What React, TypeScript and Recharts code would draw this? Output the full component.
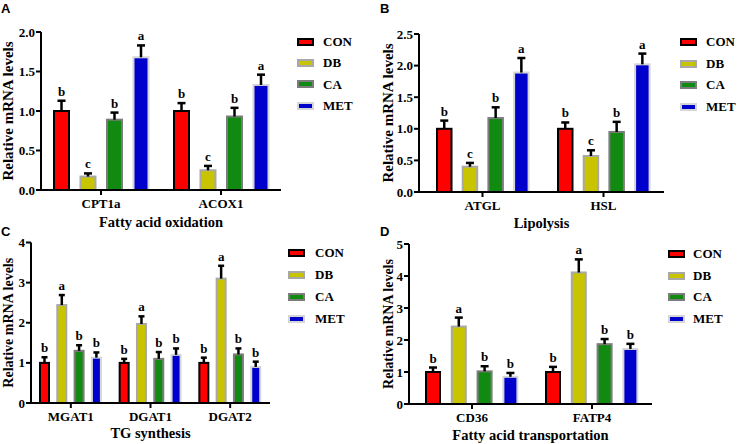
import React from 'react';
import { BarChart, Bar, XAxis, YAxis, Legend, LabelList } from 'recharts';

// ---------- shared ----------
const SERIES = ['CON', 'DB', 'CA', 'MET'];
const FILLS = ['#ff0000', '#c8c400', '#118a11', '#0000cc'];
const STROKES = ['#000000', '#a8a8a8', '#7c7c7c', '#d6d6d6'];
const Y_TITLE = 'Relative mRNA levels';
const SERIF = '"Liberation Serif", "Times New Roman", "DejaVu Serif", serif';

// ---------- Panel A: Fatty acid oxidation ----------
const genesA = ['CPT1a', 'ACOX1'];
const conA = [1.0, 1.0];
const conErrA = [0.13, 0.1];
const dbA = [0.17, 0.25];
const dbErrA = [0.04, 0.055];
const caA = [0.89, 0.93];
const caErrA = [0.09, 0.11];
const metA = [1.68, 1.33];
const metErrA = [0.15, 0.13];
const conLetA = ['b', 'b'];
const dbLetA = ['c', 'c'];
const caLetA = ['b', 'b'];
const metLetA = ['a', 'a'];
const ticksA = [0, 0.5, 1, 1.5, 2];

// ---------- Panel B: Lipolysis ----------
const genesB = ['ATGL', 'HSL'];
const conB = [1.0, 1.0];
const conErrB = [0.13, 0.1];
const dbB = [0.4, 0.57];
const dbErrB = [0.06, 0.09];
const caB = [1.17, 0.95];
const caErrB = [0.17, 0.16];
const metB = [1.89, 2.02];
const metErrB = [0.23, 0.17];
const conLetB = ['b', 'b'];
const dbLetB = ['c', 'c'];
const caLetB = ['b', 'b'];
const metLetB = ['a', 'a'];
const ticksB = [0, 0.5, 1, 1.5, 2, 2.5];

// ---------- Panel C: TG synthesis ----------
const genesC = ['MGAT1', 'DGAT1', 'DGAT2'];
const conC = [1.0, 1.0, 1.0];
const conErrC = [0.14, 0.1, 0.13];
const dbC = [2.44, 1.97, 3.1];
const dbErrC = [0.25, 0.19, 0.32];
const caC = [1.3, 1.1, 1.21];
const caErrC = [0.14, 0.17, 0.15];
const metC = [1.13, 1.2, 0.9];
const metErrC = [0.13, 0.16, 0.13];
const conLetC = ['b', 'b', 'b'];
const dbLetC = ['a', 'a', 'a'];
const caLetC = ['b', 'b', 'b'];
const metLetC = ['b', 'b', 'b'];
const ticksC = [0, 1, 2, 3, 4];

// ---------- Panel D: Fatty acid transportation ----------
const genesD = ['CD36', 'FATP4'];
const conD = [1.0, 1.0];
const conErrD = [0.14, 0.16];
const dbD = [2.42, 4.11];
const dbErrD = [0.28, 0.41];
const caD = [1.02, 1.87];
const caErrD = [0.16, 0.16];
const metD = [0.85, 1.72];
const metErrD = [0.12, 0.16];
const conLetD = ['b', 'b'];
const dbLetD = ['a', 'a'];
const caLetD = ['b', 'b'];
const metLetD = ['b', 'b'];
const ticksD = [0, 1, 2, 3, 4, 5];

type Row = Record<string, any>;

function buildRows(genes: string[], vals: number[][], errs: number[][], lets: string[][]): Row[] {
  return genes.map((g, i) => {
    const r: Row = { gene: g };
    SERIES.forEach((s, k) => {
      r[s] = vals[k][i];
      r[s + '_err'] = errs[k][i];
      r[s + '_let'] = lets[k][i];
    });
    return r;
  });
}

const dataA = buildRows(genesA, [conA, dbA, caA, metA], [conErrA, dbErrA, caErrA, metErrA], [conLetA, dbLetA, caLetA, metLetA]);
const dataB = buildRows(genesB, [conB, dbB, caB, metB], [conErrB, dbErrB, caErrB, metErrB], [conLetB, dbLetB, caLetB, metLetB]);
const dataC = buildRows(genesC, [conC, dbC, caC, metC], [conErrC, dbErrC, caErrC, metErrC], [conLetC, dbLetC, caLetC, metLetC]);
const dataD = buildRows(genesD, [conD, dbD, caD, metD], [conErrD, dbErrD, caErrD, metErrD], [conLetD, dbLetD, caLetD, metLetD]);

const makeShape = (key: string, capW: number) => (props: any) => {
  const { x, y, width, height, payload, fill, stroke } = props;
  const v = payload[key];
  const e = payload[key + '_err'];
  const ppu = v ? height / v : 0;
  const cx = x + width / 2;
  const top = y - e * ppu;
  return (
    <g>
      <rect x={x} y={y} width={width} height={height} fill={fill} stroke={stroke} strokeWidth={2} />
      <line x1={cx} x2={cx} y1={y} y2={top} stroke="#000" strokeWidth={2.5} />
      <line x1={cx - capW / 2} x2={cx + capW / 2} y1={top} y2={top} stroke="#000" strokeWidth={2.5} />
    </g>
  );
};

const makeLabel = (key: string, data: Row[]) => (props: any) => {
  const vb = props.viewBox || {};
  const x = props.x ?? vb.x;
  const y = props.y ?? vb.y;
  const w = props.width ?? vb.width;
  const h = props.height ?? vb.height;
  const row = data[props.index];
  if (!row || x == null) return null;
  const v = row[key];
  const e = row[key + '_err'];
  const ppu = v ? h / v : 0;
  const ty = y - e * ppu - 5;
  return (
    <text
      x={x + w / 2}
      y={ty}
      textAnchor="middle"
      fill="#000"
      fontSize={13}
      fontWeight="bold"
      fontFamily={SERIF}
    >
      {props.value}
    </text>
  );
};

const makeLegend = (w: number, pitch: number, swOff: number, txtOff: number) => () => (
  <div style={{ width: w }}>
    {SERIES.map((s, i) => (
      <div key={s} style={{ position: 'relative', height: pitch }}>
        <div
          style={{
            position: 'absolute',
            left: swOff,
            top: pitch / 2 - 4,
            width: 13,
            height: 4,
            background: FILLS[i],
            border: `2px solid ${STROKES[i]}`,
          }}
        />
        <span
          style={{
            position: 'absolute',
            left: txtOff,
            top: 0,
            lineHeight: pitch + 'px',
            fontSize: 13,
            fontWeight: 'bold',
            fontFamily: SERIF,
            color: '#000',
            whiteSpace: 'nowrap',
          }}
        >
          {s}
        </span>
      </div>
    ))}
  </div>
);

interface PanelProps {
  letter: string;
  data: Row[];
  ticks: number[];
  decimals: number;
  title: string;
  left: number;
  top: number;
  W: number;
  H: number;
  margin: { top: number; right: number; bottom: number; left: number };
  yW: number;
  legendW: number;
  legTop: number;
  pitch: number;
  swOff: number;
  txtOff: number;
  xPad: number;
  barSize: number;
  barGap: number;
  cap: number;
  yLabOff: number;
  yLabSize: number;
  titleOff: number;
  letterPos: { left: number; top: number };
}

function Panel(p: PanelProps) {
  const max = p.ticks[p.ticks.length - 1];
  const tickStyle = { fill: '#000', fontSize: 13, fontWeight: 'bold', fontFamily: SERIF };
  return (
    <div style={{ position: 'absolute', left: p.left, top: p.top, width: p.W, height: p.H }}>
      <BarChart width={p.W} height={p.H} data={p.data} margin={p.margin} barGap={p.barGap}>
        <XAxis
          dataKey="gene"
          interval={0}
          height={40}
          padding={{ left: p.xPad, right: 0 }}
          axisLine={{ stroke: '#000', strokeWidth: 2 }}
          tickLine={{ stroke: '#000', strokeWidth: 2 }}
          tickSize={5}
          tickMargin={4}
          tick={tickStyle}
          label={{
            value: p.title,
            position: 'insideBottom',
            offset: p.titleOff,
            fill: '#000',
            fontSize: 14.5,
            fontWeight: 'bold',
            fontFamily: SERIF,
          }}
        />
        <YAxis
          domain={[0, max]}
          ticks={p.ticks}
          interval={0}
          width={p.yW}
          axisLine={{ stroke: '#000', strokeWidth: 2 }}
          tickLine={{ stroke: '#000', strokeWidth: 2 }}
          tickSize={5}
          tickMargin={1}
          tick={tickStyle}
          tickFormatter={(v: number) => v.toFixed(p.decimals)}
          label={{
            value: Y_TITLE,
            angle: -90,
            position: 'insideLeft',
            offset: p.yLabOff,
            style: { textAnchor: 'middle' },
            fill: '#000',
            fontSize: p.yLabSize,
            fontWeight: 'bold',
            fontFamily: SERIF,
          }}
        />
        <Legend
          layout="vertical"
          align="right"
          verticalAlign="top"
          width={p.legendW}
          wrapperStyle={{ top: p.legTop, right: 0 }}
          content={makeLegend(p.legendW, p.pitch, p.swOff, p.txtOff)}
        />
        {SERIES.map((s, i) => (
          <Bar
            key={s}
            dataKey={s}
            fill={FILLS[i]}
            stroke={STROKES[i]}
            barSize={p.barSize}
            isAnimationActive={false}
            shape={makeShape(s, p.cap)}
          >
            <LabelList dataKey={s + '_let'} content={makeLabel(s, p.data)} />
          </Bar>
        ))}
      </BarChart>
      <div
        style={{
          position: 'absolute',
          left: p.letterPos.left,
          top: p.letterPos.top,
          fontFamily: '"Liberation Sans", Arial, sans-serif',
          fontWeight: 'bold',
          fontSize: 13,
          lineHeight: '13px',
          color: '#000',
        }}
      >
        {p.letter}
      </div>
    </div>
  );
}

export default function App() {
  return (
    <div
      style={{
        position: 'absolute',
        left: 0,
        top: 0,
        width: 738,
        height: 444,
        background: '#fff',
        overflow: 'hidden',
        fontFamily: SERIF,
        fontWeight: 'bold',
      }}
    >
      <Panel
        letter="A"
        data={dataA}
        ticks={ticksA}
        decimals={1}
        title="Fatty acid oxidation"
        left={0}
        top={0}
        W={369}
        H={235}
        margin={{ top: 32, right: 0, bottom: 5, left: 0 }}
        yW={41}
        legendW={88}
        legTop={31}
        pitch={21.3}
        swOff={16}
        txtOff={42}
        xPad={0}
        barSize={15}
        barGap={11.5}
        cap={8}
        yLabOff={8}
        yLabSize={15}
        titleOff={3}
        letterPos={{ left: 1, top: 2 }}
      />
      <Panel
        letter="B"
        data={dataB}
        ticks={ticksB}
        decimals={1}
        title="Lipolysis"
        left={368}
        top={0}
        W={370}
        H={235}
        margin={{ top: 34, right: 0, bottom: 3, left: 0 }}
        yW={51}
        legendW={74}
        legTop={31}
        pitch={21.7}
        swOff={16}
        txtOff={42}
        xPad={3}
        barSize={14.5}
        barGap={11.2}
        cap={8}
        yLabOff={20}
        yLabSize={15}
        titleOff={4}
        letterPos={{ left: 12, top: 2 }}
      />
      <Panel
        letter="C"
        data={dataC}
        ticks={ticksC}
        decimals={0}
        title="TG synthesis"
        left={0}
        top={220}
        W={369}
        H={224}
        margin={{ top: 22.5, right: 0, bottom: 1, left: 0 }}
        yW={31}
        legendW={99}
        legTop={22}
        pitch={22}
        swOff={18}
        txtOff={45}
        xPad={0}
        barSize={9}
        barGap={8.3}
        cap={6}
        yLabOff={8}
        yLabSize={14}
        titleOff={5}
        letterPos={{ left: 1, top: 5 }}
      />
      <Panel
        letter="D"
        data={dataD}
        ticks={ticksD}
        decimals={0}
        title="Fatty acid transportation"
        left={368}
        top={220}
        W={370}
        H={224}
        margin={{ top: 24, right: 0, bottom: 0, left: 0 }}
        yW={41}
        legendW={86}
        legTop={23}
        pitch={21.7}
        swOff={16}
        txtOff={41}
        xPad={3}
        barSize={14}
        barGap={11.8}
        cap={8}
        yLabOff={20}
        yLabSize={14}
        titleOff={4}
        letterPos={{ left: 12, top: 5 }}
      />
    </div>
  );
}
